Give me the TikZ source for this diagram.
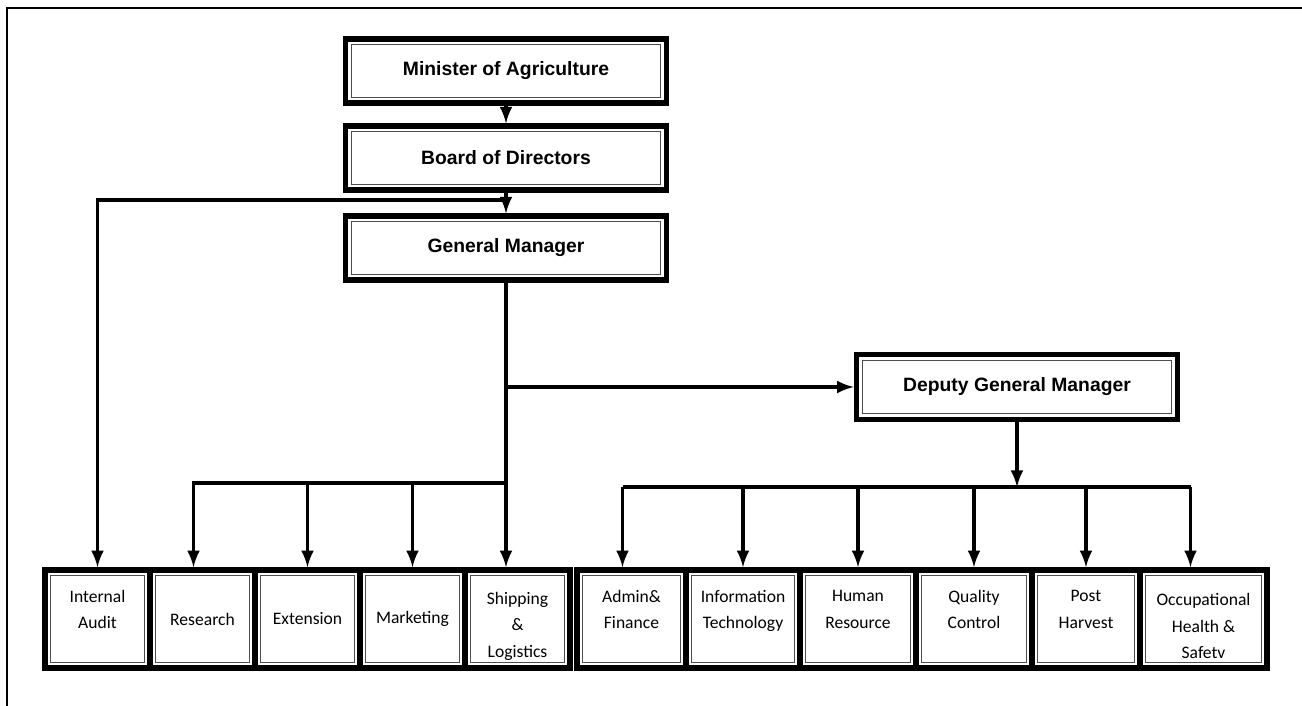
\documentclass[tikz,border=0pt]{standalone}
\usepackage{fontspec}
\setmainfont{Liberation Sans}
\newfontfamily\deptfont{Carlito}
\begin{document}
\begin{tikzpicture}[x=0.02cm, y=-0.02cm,
  framed/.style={draw, line width=3.2pt, inner sep=0pt, align=center,
    path picture={\draw[gray!60!black, line width=0.7pt]
      ([shift={(3.2pt,3.2pt)}]path picture bounding box.south west) rectangle
      ([shift={(-3.2pt,-3.2pt)}]path picture bounding box.north east);}},
  head/.style={framed, minimum width=6.42cm, minimum height=1.27cm,
    font=\fontsize{11}{13}\selectfont\bfseries},
  dept/.style={framed, minimum height=1.96cm,
    font=\deptfont\fontsize{10}{15}\selectfont},
  raised/.style={text depth=11pt},
  lowered/.style={text height=45pt},
  link/.style={line width=2.2pt, >=latex}]
\useasboundingbox (0,0) rectangle (1302,706);
\draw[line width=1.7pt] (1302,8) -- (7,8) -- (7,706);

% top of the chart
\node[head] (minister) at (506,71) {Minister of Agriculture};
\node[head] (board) at (506,158) {Board of Directors};
\node[head] (gm) at (506,248) {General Manager};
\node[head, minimum height=1.3cm] (dgm) at (1017,387) {Deputy General Manager};

% units under the general manager
\node[dept, raised, minimum width=2.1cm] (audit) at (97.5,619) {Internal\\Audit};
\node[dept, minimum width=2.1cm] (research) at (202.5,619) {Research};
\node[dept, minimum width=2.1cm] (extension) at (307.5,619) {Extension};
\node[dept, minimum width=2.1cm] (marketing) at (412.5,619) {Marketing};
\node[dept, lowered, minimum width=2.1cm] (shipping) at (517.5,619) {Shipping\\\&\\Logistics};

% units under the deputy
\node[dept, raised, minimum width=2.18cm] (admin) at (631.5,619) {Admin\&\\Finance};
\node[dept, raised, minimum width=2.28cm] (it) at (743,619) {Information\\Technology};
\node[dept, raised, minimum width=2.32cm] (hr) at (858,619) {Human\\Resource};
\node[dept, raised, minimum width=2.32cm] (qc) at (974,619) {Quality\\Control};
\node[dept, raised, minimum width=2.16cm] (ph) at (1086,619) {Post\\Harvest};
\node[dept, lowered, minimum width=2.54cm] (occ) at (1203.5,619) {Occupational\\Health \&\\Safetv};

\draw[link,->] (minister) -- (board);
\draw[link,->] (board) -- (gm);
\coordinate (auditjoin) at (506,200);
\draw[link,->] (auditjoin) -| (audit.north);
\draw[link,->] (gm.south) -- (gm.south |- shipping.north);
\coordinate (deputyjoin) at (gm.south |- dgm.west);
\draw[link,->] (deputyjoin) -- (dgm.west);
\coordinate (deptjoin) at (506,483);
\draw[link,->] (deptjoin) -| ([xshift=-0.18cm]research.north);
\foreach \n in {extension,marketing}
  \draw[link,->] (\n.north |- deptjoin) -- (\n.north);

\coordinate (unitjoin) at (1017,487);
\draw[link,->] (dgm) -- (unitjoin);
\draw[link] ([xshift=-0.18cm]admin.north |- unitjoin) -- ([xshift=-0.26cm]occ.north |- unitjoin);
\foreach \n/\dx in {admin/-0.18,it/0,hr/0,qc/0,ph/0,occ/-0.26}
  \draw[link,->] ([xshift=\dx cm]\n.north |- unitjoin) -- ([xshift=\dx cm]\n.north);
\end{tikzpicture}
\end{document}
